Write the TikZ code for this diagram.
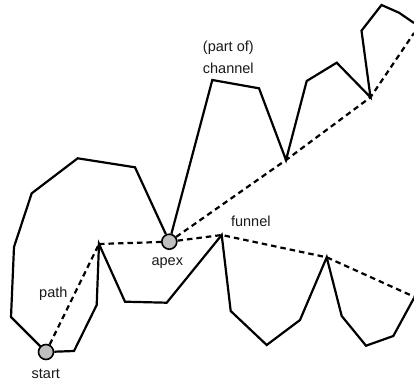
\documentclass[tikz,border=0pt]{standalone}
\usepackage{fontspec}
\setmainfont{Liberation Sans}
\begin{document}
\begin{tikzpicture}[x=1pt,y=-1pt,
  solidline/.style={line width=2.2pt,line join=miter,black},
  dashline/.style={line width=2.2pt,dash pattern=on 5.5pt off 4pt,black},
  pt/.style={circle,draw=black,line width=1.6pt,fill=black!25,minimum size=15pt,inner sep=0pt},
  lbl/.style={font=\fontsize{14.5}{17}\selectfont,anchor=base,inner sep=0pt,text=black!90}]
\useasboundingbox (0,0) rectangle (414,381);
% vertices
\coordinate (u1) at (11,317);
\coordinate (u2) at (14,247);
\coordinate (u3) at (31.7,193.3);
\coordinate (u4) at (77.7,158.3);
\coordinate (u5) at (135,167.3);
\coordinate (c1) at (212.3,80);
\coordinate (c2) at (259,88.3);
\coordinate (c3) at (286,160);
\coordinate (c4) at (306.7,81);
\coordinate (c5) at (336.7,62.7);
\coordinate (c6) at (370.5,97.3);
\coordinate (c7) at (361.5,30.7);
\coordinate (c8) at (381.5,5);
\coordinate (c9) at (399,12.7);
\coordinate (c10) at (414,23);
\coordinate (c11) at (414,33);
\coordinate (l1) at (74,351);
\coordinate (l2) at (96.7,305);
\coordinate (p) at (99,244);
\coordinate (l4) at (125,301.7);
\coordinate (l5) at (166.7,302.7);
\coordinate (f) at (221.7,235);
\coordinate (l6) at (230.7,311);
\coordinate (l7) at (266.7,345);
\coordinate (l8) at (300,320);
\coordinate (g) at (326.7,257.3);
\coordinate (l9) at (341.7,316);
\coordinate (l10) at (366,345.7);
\coordinate (l11) at (393.3,336);
\coordinate (l12) at (414,298);
\coordinate (g2) at (414,296.7);
% points
\node[pt] (s) at (46,352) {};
\node[pt] (a) at (169.3,241.7) {};
% solid chain
\draw[solidline] (s) -- (u1) -- (u2) -- (u3) -- (u4) -- (u5) -- (a);
\draw[solidline] (a) -- (c1) -- (c2) -- (c3) -- (c4) -- (c5) -- (c6) -- (c7) -- (c8) -- (c9) -- (c10);
\draw[solidline] (s) -- (l1) -- (l2) -- (p) -- (l4) -- (l5) -- (f) -- (l6) -- (l7) -- (l8) -- (g) -- (l9) -- (l10) -- (l11) -- (l12);
% dashed
\draw[dashline] (s) -- (p);
\draw[dashline] (p) -- (a);
\draw[dashline] (a) -- (f) -- (g) -- (g2);
\draw[dashline] (a) -- (c3) -- (c6) -- (c11);
% labels
\node[lbl] (t1) at (228.3,51) {(part of)};
\node[lbl] (t2) at (228.3,73.5) {channel};
\node[lbl] (t3) at (250.8,226) {funnel};
\node[lbl] (t4) at (167.3,265) {apex};
\node[lbl] (t5) at (53.3,297.7) {path};
\node[lbl] (t6) at (45.8,378) {start};
\end{tikzpicture}
\end{document}
